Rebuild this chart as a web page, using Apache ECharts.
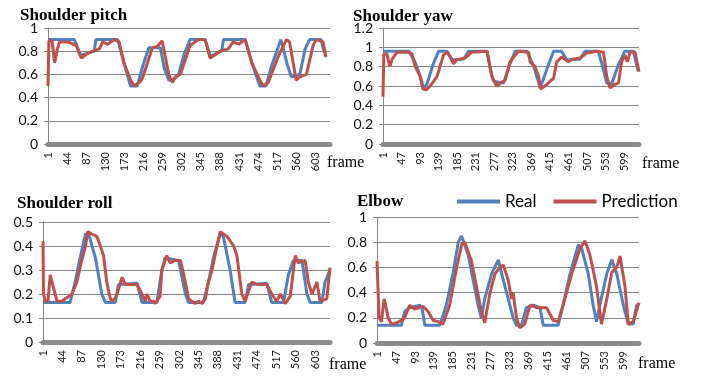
<!DOCTYPE html>
<html>
<head>
<meta charset="utf-8">
<script src="https://cdn.jsdelivr.net/npm/echarts@6/dist/echarts.min.js"></script>
<style>
  html, body { margin: 0; padding: 0; background: #fff; }
  #main { width: 704px; height: 378px; }
</style>
</head>
<body>
<div id="main"></div>
<script>
// frame numbers on the x axis (1..636)
var frames = [];
for (var i = 1; i <= 636; i++) frames.push(String(i));

// [frame, value] key points
var pitchReal = [[1,0.9],[60,0.9],[66,0.85],[73,0.77],[80,0.77],[95,0.79],[105,0.8],[109,0.9],[158,0.9],[172,0.7],[187,0.5],[202,0.5],[215,0.68],[228,0.83],[254,0.83],[263,0.65],[273,0.55],[285,0.56],[295,0.6],[308,0.78],[321,0.9],[355,0.9],[366,0.76],[375,0.77],[390,0.8],[393,0.82],[396,0.9],[445,0.9],[460,0.7],[478,0.5],[492,0.5],[505,0.68],[519,0.83],[525,0.9],[530,0.84],[540,0.68],[549,0.58],[568,0.6],[580,0.82],[590,0.9],[616,0.9],[621,0.82],[627,0.75]];
var pitchPred = [[1,0.5],[3,0.89],[10,0.89],[16,0.7],[22,0.82],[27,0.88],[46,0.88],[64,0.85],[70,0.8],[76,0.74],[90,0.78],[102,0.8],[117,0.82],[124,0.88],[135,0.86],[150,0.9],[161,0.88],[172,0.7],[187,0.55],[195,0.5],[206,0.53],[213,0.56],[225,0.7],[236,0.83],[247,0.84],[258,0.89],[273,0.6],[281,0.53],[288,0.58],[299,0.6],[321,0.85],[340,0.9],[355,0.9],[366,0.74],[389,0.8],[407,0.82],[418,0.88],[430,0.86],[445,0.9],[460,0.7],[478,0.55],[486,0.5],[497,0.53],[504,0.6],[519,0.75],[530,0.84],[538,0.9],[545,0.88],[553,0.7],[560,0.55],[568,0.58],[583,0.6],[598,0.85],[605,0.9],[620,0.88],[627,0.75]];

var yawReal = [[1,0.96],[65,0.96],[80,0.85],[95,0.68],[102,0.57],[110,0.62],[125,0.82],[139,0.96],[160,0.96],[172,0.87],[201,0.88],[213,0.96],[259,0.96],[267,0.78],[275,0.65],[300,0.63],[315,0.82],[329,0.96],[358,0.96],[375,0.8],[391,0.58],[408,0.78],[424,0.96],[444,0.96],[457,0.87],[490,0.88],[502,0.96],[535,0.96],[546,0.8],[556,0.63],[568,0.62],[585,0.82],[601,0.96],[622,0.96],[634,0.75]];
var yawPred = [[1,0.49],[3,0.93],[11,0.93],[18,0.8],[24,0.88],[36,0.95],[65,0.95],[73,0.93],[81,0.8],[93,0.7],[100,0.57],[108,0.56],[118,0.6],[127,0.65],[135,0.7],[151,0.92],[160,0.95],[168,0.9],[176,0.83],[184,0.87],[205,0.89],[221,0.95],[259,0.96],[271,0.7],[283,0.6],[296,0.64],[304,0.66],[316,0.85],[329,0.92],[337,0.96],[362,0.95],[366,0.85],[378,0.8],[387,0.7],[392,0.57],[403,0.6],[416,0.65],[424,0.68],[432,0.85],[444,0.9],[461,0.85],[473,0.88],[490,0.89],[506,0.94],[531,0.96],[548,0.95],[556,0.7],[564,0.58],[577,0.62],[585,0.63],[593,0.85],[601,0.92],[607,0.85],[614,0.95],[626,0.95],[636,0.75]];

var rollReal = [[1,0.165],[61,0.165],[72,0.25],[83,0.35],[95,0.45],[102,0.45],[117,0.35],[131,0.2],[139,0.165],[161,0.165],[168,0.24],[209,0.245],[220,0.165],[253,0.165],[264,0.3],[271,0.35],[301,0.34],[316,0.2],[323,0.165],[356,0.165],[367,0.25],[378,0.35],[393,0.45],[400,0.44],[415,0.3],[423,0.2],[426,0.165],[448,0.165],[456,0.24],[496,0.245],[507,0.165],[533,0.165],[544,0.28],[555,0.34],[574,0.34],[585,0.2],[592,0.165],[618,0.165],[625,0.25],[636,0.3]];
var rollPred = [[1,0.42],[2,0.2],[6,0.17],[12,0.17],[17,0.28],[20,0.28],[25,0.22],[32,0.17],[43,0.17],[50,0.18],[58,0.19],[65,0.2],[76,0.25],[84,0.32],[95,0.4],[100,0.46],[109,0.45],[120,0.44],[128,0.4],[135,0.36],[142,0.25],[150,0.18],[157,0.17],[165,0.2],[176,0.27],[183,0.24],[209,0.24],[220,0.2],[227,0.17],[231,0.2],[238,0.17],[246,0.17],[249,0.16],[260,0.19],[264,0.3],[275,0.36],[282,0.33],[294,0.34],[305,0.34],[316,0.25],[323,0.18],[330,0.17],[338,0.16],[345,0.17],[353,0.16],[360,0.18],[367,0.25],[375,0.3],[386,0.4],[393,0.46],[408,0.44],[423,0.4],[430,0.36],[441,0.2],[448,0.17],[463,0.25],[474,0.24],[496,0.24],[507,0.2],[518,0.17],[526,0.2],[537,0.16],[548,0.19],[559,0.36],[566,0.33],[581,0.34],[588,0.25],[596,0.2],[607,0.25],[614,0.17],[629,0.18],[636,0.31]];

var elbowReal = [[1,0.14],[60,0.14],[68,0.25],[80,0.28],[105,0.3],[110,0.28],[117,0.14],[153,0.14],[169,0.3],[185,0.55],[198,0.8],[206,0.85],[222,0.7],[234,0.5],[246,0.3],[254,0.2],[262,0.35],[279,0.55],[295,0.66],[307,0.5],[319,0.35],[331,0.2],[339,0.14],[351,0.14],[363,0.28],[380,0.3],[396,0.28],[404,0.14],[440,0.14],[452,0.3],[469,0.55],[489,0.78],[497,0.75],[513,0.55],[525,0.3],[533,0.17],[541,0.3],[558,0.55],[570,0.66],[582,0.55],[598,0.3],[610,0.15],[622,0.15],[630,0.3],[636,0.3]];
var elbowPred = [[1,0.65],[6,0.2],[12,0.17],[18,0.35],[22,0.3],[28,0.2],[36,0.15],[48,0.16],[60,0.18],[68,0.2],[80,0.3],[92,0.27],[113,0.29],[125,0.25],[137,0.18],[149,0.17],[161,0.15],[177,0.3],[194,0.6],[206,0.78],[214,0.8],[230,0.65],[242,0.45],[254,0.25],[262,0.16],[275,0.4],[287,0.55],[299,0.6],[307,0.62],[319,0.5],[327,0.35],[331,0.4],[339,0.2],[347,0.12],[359,0.15],[372,0.3],[388,0.28],[412,0.28],[428,0.18],[440,0.17],[452,0.3],[473,0.55],[493,0.75],[505,0.81],[517,0.7],[533,0.45],[545,0.15],[558,0.35],[570,0.56],[582,0.6],[590,0.69],[602,0.45],[610,0.15],[622,0.17],[636,0.32]];

var panels = [
  { title: 'Shoulder pitch', real: pitchReal, pred: pitchPred, max: 1,   step: 0.2, every: 42,
    grid: { left: 48, top: 28, width: 282, height: 116 } },
  { title: 'Shoulder yaw',   real: yawReal,   pred: yawPred,   max: 1.2, step: 0.2, every: 45,
    grid: { left: 383, top: 28, width: 256, height: 116 } },
  { title: 'Shoulder roll',  real: rollReal,  pred: rollPred,  max: 0.5, step: 0.1, every: 42,
    grid: { left: 43, top: 222, width: 287, height: 120 } },
  { title: 'Elbow',          real: elbowReal, pred: elbowPred, max: 1,   step: 0.2, every: 45,
    grid: { left: 377, top: 217, width: 262, height: 126 } }
];

function toIdx(pts) {
  return pts.map(function (p) { return [p[0] - 1, p[1]]; });
}

var grids = [], xAxes = [], yAxes = [], series = [];
panels.forEach(function (p, k) {
  grids.push(p.grid);
  xAxes.push({
    type: 'category', gridIndex: k, data: frames, boundaryGap: false,
    axisLine: { lineStyle: { color: '#8c8c8c', width: 5 } },
    axisTick: { show: false },
    axisLabel: { interval: p.every, rotate: 90, margin: 8, color: '#222', fontSize: 11, fontFamily: 'Lato' },
    splitLine: { show: false }
  });
  yAxes.push({
    type: 'value', gridIndex: k, min: 0, max: p.max, interval: p.step,
    axisLine: { show: true, lineStyle: { color: '#868686', width: 1 } },
    axisTick: { show: true, length: 4, lineStyle: { color: '#868686' } },
    axisLabel: { color: '#111', fontSize: 14, fontFamily: 'Lato', margin: 10 },
    splitLine: { lineStyle: { color: '#868686', width: 1 } }
  });
  series.push({
    name: 'Real', type: 'line', xAxisIndex: k, yAxisIndex: k, data: toIdx(p.real),
    symbol: 'none', lineStyle: { color: '#4f81bd', width: 3 }, itemStyle: { color: '#4f81bd' }
  });
  series.push({
    name: 'Prediction', type: 'line', xAxisIndex: k, yAxisIndex: k, data: toIdx(p.pred),
    symbol: 'none', lineStyle: { color: '#c0504d', width: 3 }, itemStyle: { color: '#c0504d' }
  });
});

var titleStyle = { fontFamily: 'Liberation Serif', fontWeight: 'bold', fontSize: 17, color: '#000' };
var myChart = echarts.init(document.getElementById('main'));
myChart.setOption({
  animation: false,
  title: [
    { text: 'Shoulder pitch', left: 15, top: 2, textStyle: titleStyle },
    { text: 'Shoulder yaw', left: 348, top: 3, textStyle: titleStyle },
    { text: 'Shoulder roll', left: 12, top: 190, textStyle: titleStyle },
    { text: 'Elbow', left: 352, top: 188, textStyle: titleStyle }
  ],
  legend: {
    left: 452, top: 188, icon: 'rect', itemWidth: 43, itemHeight: 4, itemGap: 17,
    data: ['Real', 'Prediction'],
    textStyle: { fontFamily: 'Lato', fontSize: 17, color: '#000' }
  },
  grid: grids,
  xAxis: xAxes,
  yAxis: yAxes,
  series: series,
  graphic: [
    { type: 'text', left: 327, top: 155, style: { text: 'frame', font: '16px "Liberation Serif"', fill: '#000' } },
    { type: 'text', left: 642, top: 156, style: { text: 'frame', font: '16px "Liberation Serif"', fill: '#000' } },
    { type: 'text', left: 329, top: 357, style: { text: 'frame', font: '16px "Liberation Serif"', fill: '#000' } },
    { type: 'text', left: 638, top: 356, style: { text: 'frame', font: '16px "Liberation Serif"', fill: '#000' } }
  ]
});
window.addEventListener('resize', function () {
  myChart.resize();
});
</script>
</body>
</html>
